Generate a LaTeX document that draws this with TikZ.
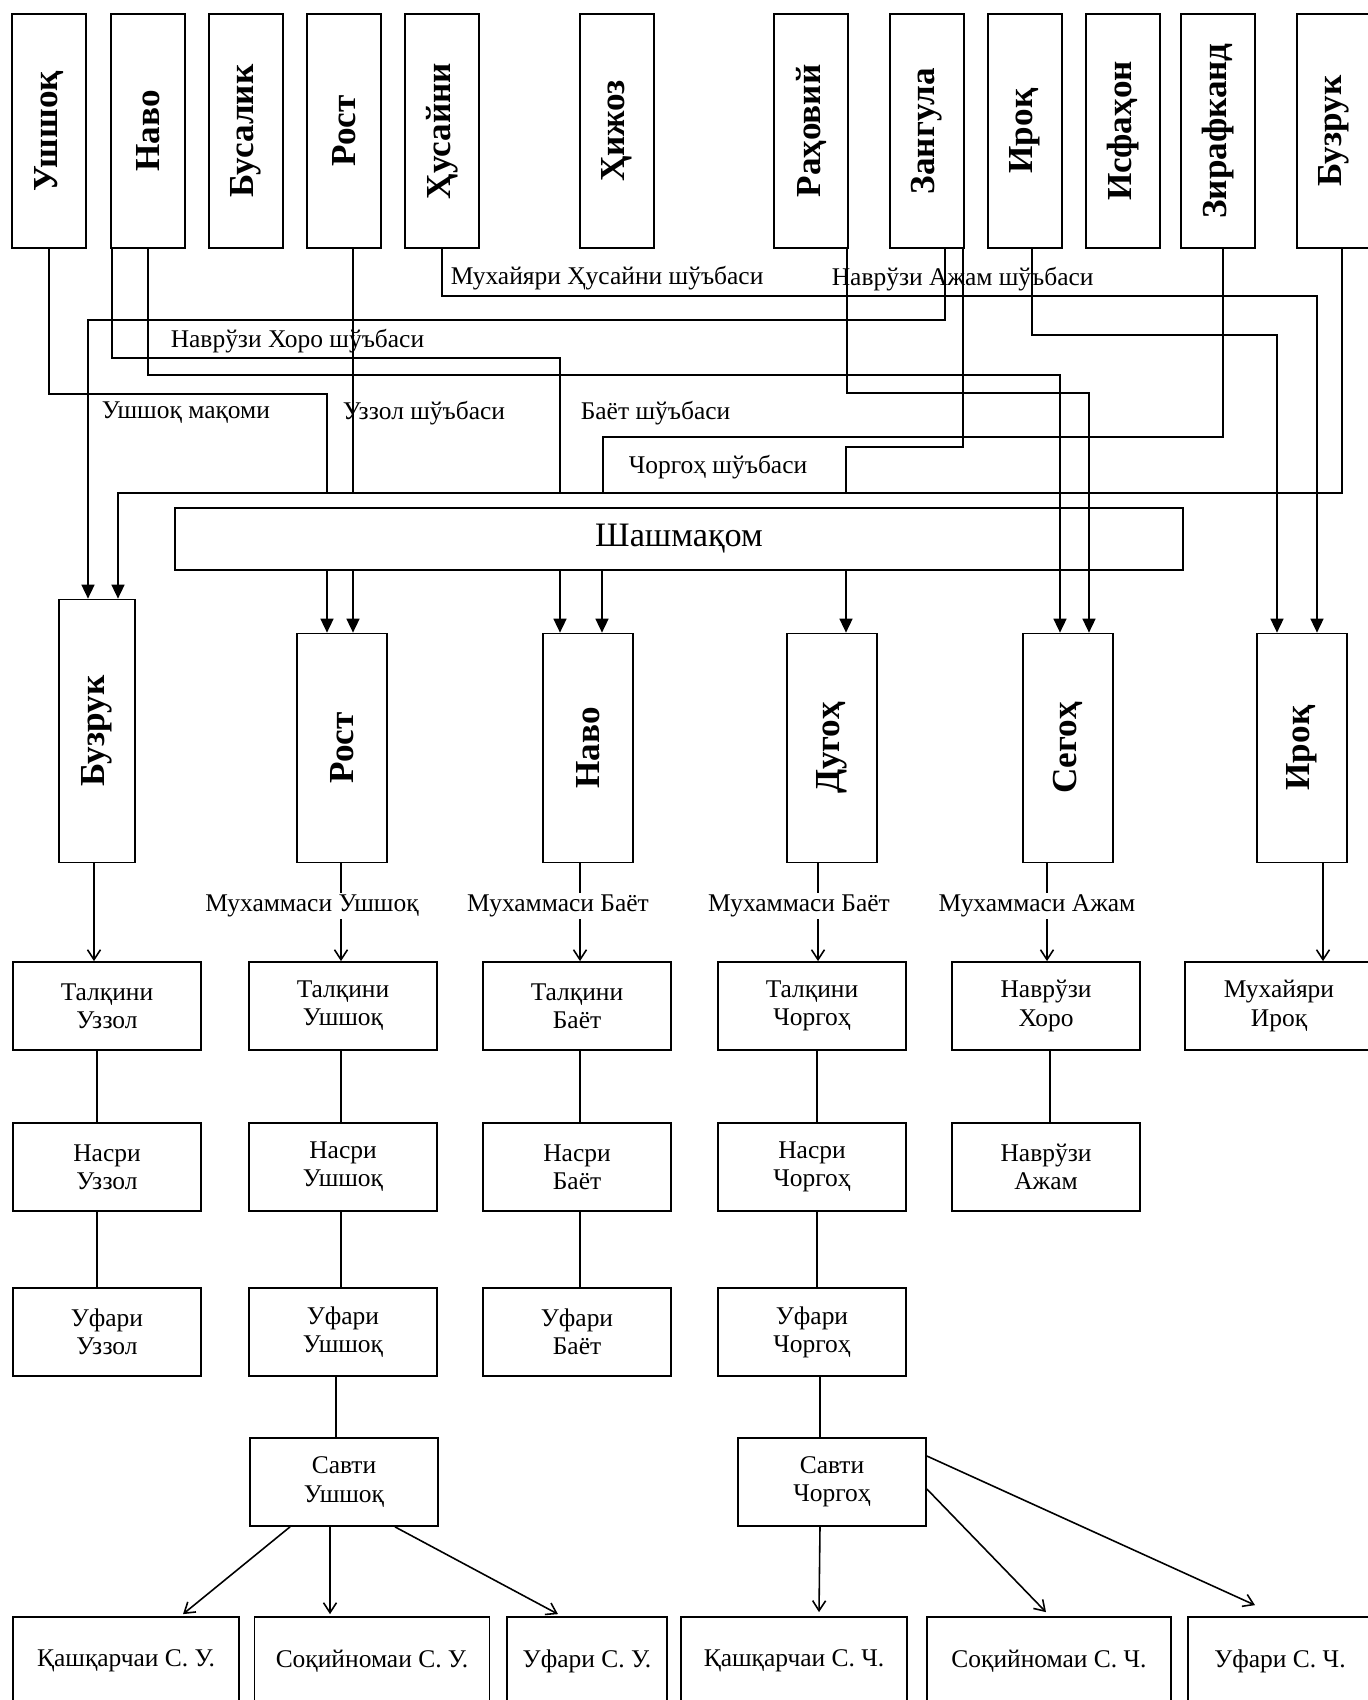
\documentclass[tikz,border=0pt]{standalone}
\usepackage{fontspec}
\setmainfont{Liberation Serif}
\usepackage{graphicx}
\usetikzlibrary{
  arrows.meta,
  calc
}

\begin{document}
\begin{tikzpicture}[
  x=0.02cm, y=-0.02cm,
  every node/.style={font=\fontsize{14.5}{16}\selectfont},
  line width=0.9pt,
  tip/.style={-{Triangle[length=2.8mm,width=2.6mm]}},
  barb/.style={-{Straight Barb[length=2mm,width=2.6mm]}},
  topbox/.style={draw, line width=1pt, inner sep=0pt, minimum width=1.48cm,
    minimum height=4.68cm, font=\fontsize{20}{22}\selectfont\bfseries},
  maqbox/.style={topbox, minimum width=1.8cm, minimum height=4.58cm},
  cell/.style={draw, line width=1pt, align=center, minimum width=3.76cm, minimum height=1.76cm},
  leaf/.style={draw, line width=1pt, minimum height=1.76cm},
  shuba/.style={anchor=west, inner sep=0pt},
  muh/.style={fill=white, inner sep=1pt}
]
\useasboundingbox (0,0) rectangle (1367,1700);

% Top row of maqoms
\node[topbox] (ushshoq)   at (49,131)   {\rotatebox{90}{Ушшоқ}};
\node[topbox] (navo)      at (148,131)  {\rotatebox{90}{Наво}};
\node[topbox] (busalik)   at (246,131)  {\rotatebox{90}{Бусалик}};
\node[topbox] (rost)      at (344,131)  {\rotatebox{90}{Рост}};
\node[topbox] (husayni)   at (442,131)  {\rotatebox{90}{Ҳусайни}};
\node[topbox] (hijoz)     at (617,131)  {\rotatebox{90}{Ҳижоз}};
\node[topbox] (rahoviy)   at (811,131)  {\rotatebox{90}{Раҳовий}};
\node[topbox] (zangula)   at (927,131)  {\rotatebox{90}{Зангула}};
\node[topbox] (iroq)      at (1025,131) {\rotatebox{90}{Ироқ}};
\node[topbox] (isfahon)   at (1123,131) {\rotatebox{90}{Исфаҳон}};
\node[topbox] (zirafkand) at (1218,131) {\rotatebox{90}{Зирафканд}};
\node[topbox] (buzruk)    at (1334,131) {\rotatebox{90}{Бузрук}};

% Shuba labels
\node[shuba] (lMuhHus)  at (450,278) {Мухайяри Ҳусайни шўъбаси};
\node[shuba] (lNavAjam) at (831,279) {Наврўзи Ажам шўъбаси};
\node[shuba] (lNavHoro) at (170,341) {Наврўзи Хоро шўъбаси};
\node[shuba] (lUshMaq)  at (101,413) {Ушшоқ мақоми};
\node[shuba] (lUzzol)   at (342,413) {Уззол шўъбаси};
\node[shuba] (lBayot)   at (580,413) {Баёт шўъбаси};
\node[shuba] (lChorgoh) at (628,467) {Чоргоҳ шўъбаси};

% Shashmaqom and the six maqoms
\node[draw, line width=1pt, minimum width=20.16cm, minimum height=1.24cm,
  font=\fontsize{19.5}{22}\selectfont] (shash) at (679,539) {Шашмақом};

\node[maqbox, minimum width=1.52cm, minimum height=5.26cm] (buzrukM) at (97,731) {\rotatebox{90}{Бузрук}};
\node[maqbox] (rostM)  at (342,748)  {\rotatebox{90}{Рост}};
\node[maqbox] (navoM)  at (588,748)  {\rotatebox{90}{Наво}};
\node[maqbox] (dugohM) at (832,748)  {\rotatebox{90}{Дугоҳ}};
\node[maqbox] (segohM) at (1068,748) {\rotatebox{90}{Сегоҳ}};
\node[maqbox] (iroqM)  at (1302,748) {\rotatebox{90}{Ироқ}};

% Routes from the top row
\draw (ushshoq.south) |- (327,394) -- (327,493);
\draw ($(rost.south)+(9,0)$) -- (353,493);
\draw ($(navo.south west)+(2,0)$) |- (560,358) -- (560,493);
\draw[tip] (navo.south) |- (1060,375) -- ($(segohM.north)+(-8,0)$);
\draw[tip] (husayni.south) |- (1317,296) -- ($(iroqM.north)+(15,0)$);
\draw[tip] ($(zangula.south)+(18,0)$) |- (88,320) -- ($(buzrukM.north)+(-9,0)$);
\draw[tip] ($(rahoviy.south east)+(-2,0)$) |- (1089,393) -- ($(segohM.north)+(21,0)$);
\draw ($(zangula.south east)+(-2,0)$) |- (846,447) -- (846,493);
\draw[tip] ($(iroq.south)+(7,0)$) |- (1277,335) -- ($(iroqM.north)+(-25,0)$);
\draw ($(zirafkand.south)+(5,0)$) |- (603,437) -- (603,493);
\draw[tip] ($(buzruk.south)+(8,0)$) |- (118,493) -- ($(buzrukM.north)+(21,0)$);

% Out of Shashmaqom
\draw[tip] ($(shash.south)+(-352,0)$) -- ($(rostM.north)+(-15,0)$);
\draw[tip] ($(shash.south)+(-326,0)$) -- ($(rostM.north)+(11,0)$);
\draw[tip] ($(shash.south)+(-119,0)$) -- ($(navoM.north)+(-28,0)$);
\draw[tip] ($(shash.south)+(-77,0)$) -- ($(navoM.north)+(14,0)$);
\draw[tip] ($(shash.south)+(167,0)$) -- ($(dugohM.north)+(14,0)$);

% Talqin / Nasr / Ufari rows
\node[cell] (talqinUz)    at (107,1006)  {Талқини\\Уззол};
\node[cell] (talqinUsh)   at (343,1006)  {Талқини\\Ушшоқ};
\node[cell] (talqinBay)   at (577,1006)  {Талқини\\Баёт};
\node[cell] (talqinChor)  at (812,1006)  {Талқини\\Чоргоҳ};
\node[cell] (navruziHoro) at (1046,1006) {Наврўзи\\Хоро};
\node[cell] (muhayyari)   at (1279,1006) {Мухайяри\\Ироқ};

\node[cell] (nasrUz)      at (107,1167)  {Насри\\Уззол};
\node[cell] (nasrUsh)     at (343,1167)  {Насри\\Ушшоқ};
\node[cell] (nasrBay)     at (577,1167)  {Насри\\Баёт};
\node[cell] (nasrChor)    at (812,1167)  {Насри\\Чоргоҳ};
\node[cell] (navruziAjam) at (1046,1167) {Наврўзи\\Ажам};

\node[cell] (ufariUz)     at (107,1332)  {Уфари\\Уззол};
\node[cell] (ufariUsh)    at (343,1332)  {Уфари\\Ушшоқ};
\node[cell] (ufariBay)    at (577,1332)  {Уфари\\Баёт};
\node[cell] (ufariChor)   at (812,1332)  {Уфари\\Чоргоҳ};

\node[cell] (savtiUsh)    at (344,1482)  {Савти\\Ушшоқ};
\node[cell] (savtiChor)   at (832,1482)  {Савти\\Чоргоҳ};

\draw[barb] ($(buzrukM.south)+(-3,0)$) -- ($(talqinUz.north)+(-13,0)$);
\draw[barb] ($(rostM.south)+(-1,0)$) -- ($(talqinUsh.north)+(-2,0)$);
\draw[barb] ($(navoM.south)+(-8,0)$) -- ($(talqinBay.north)+(3,0)$);
\draw[barb] ($(dugohM.south)+(-14,0)$) -- ($(talqinChor.north)+(6,0)$);
\draw[barb] ($(segohM.south)+(-21,0)$) -- ($(navruziHoro.north)+(1,0)$);
\draw[barb] ($(iroqM.south)+(21,0)$) -- ($(muhayyari.north)+(44,0)$);

\node[muh] (mUsh)  at (312,906)  {Мухаммаси Ушшоқ};
\node[muh] (mBay)  at (558,906)  {Мухаммаси Баёт};
\node[muh] (mBayD) at (799,906)  {Мухаммаси Баёт};
\node[muh] (mAjam) at (1037,906) {Мухаммаси Ажам};

\draw ($(talqinUz.south)+(-10,0)$) -- ($(nasrUz.north)+(-10,0)$);
\draw ($(nasrUz.south)+(-10,0)$) -- ($(ufariUz.north)+(-10,0)$);
\draw ($(talqinUsh.south)+(-2,0)$) -- ($(nasrUsh.north)+(-2,0)$);
\draw ($(nasrUsh.south)+(-2,0)$) -- ($(ufariUsh.north)+(-2,0)$);
\draw ($(talqinBay.south)+(3,0)$) -- ($(nasrBay.north)+(3,0)$);
\draw ($(nasrBay.south)+(3,0)$) -- ($(ufariBay.north)+(3,0)$);
\draw ($(talqinChor.south)+(5,0)$) -- ($(nasrChor.north)+(5,0)$);
\draw ($(nasrChor.south)+(5,0)$) -- ($(ufariChor.north)+(5,0)$);
\draw ($(navruziHoro.south)+(4,0)$) -- ($(navruziAjam.north)+(4,0)$);
\draw ($(ufariUsh.south)+(-7,0)$) -- ($(savtiUsh.north)+(-8,0)$);
\draw ($(ufariChor.south)+(8,0)$) -- ($(savtiChor.north)+(-12,0)$);

% Bottom row
\node[leaf, minimum width=4.52cm] (qashU)    at (126,1661)  {Қашқарчаи С. У.};
\node[leaf, minimum width=4.7cm]  (soqU)     at (372,1661)  {Соқийномаи С. У.};
\node[leaf, minimum width=3.2cm]  (ufariSU)  at (587,1661)  {Уфари С. У.};
\node[leaf, minimum width=4.52cm] (qashCh)   at (794,1661)  {Қашқарчаи С. Ч.};
\node[leaf, minimum width=4.88cm] (soqCh)    at (1049,1661) {Соқийномаи С. Ч.};
\node[leaf, minimum width=3.68cm] (ufariSCh) at (1280,1661) {Уфари С. Ч.};

\draw[barb] ($(savtiUsh.south)+(-54,0)$) -- ($(qashU.north)+(57,-2)$);
\draw[barb] ($(savtiUsh.south)+(-14,0)$) -- ($(soqU.north)+(-42,-2)$);
\draw[barb] ($(savtiUsh.south)+(51,0)$) -- ($(ufariSU.north)+(-29,-2)$);
\draw[barb] ($(savtiChor.south)+(-12,0)$) -- ($(qashCh.north)+(25,-4)$);
\draw[barb] ($(savtiChor.east)+(0,7)$) -- ($(soqCh.north)+(-3,-4)$);
\draw[barb] ($(savtiChor.east)+(0,-26)$) -- ($(ufariSCh.north)+(-25,-11)$);

\end{tikzpicture}
\end{document}
